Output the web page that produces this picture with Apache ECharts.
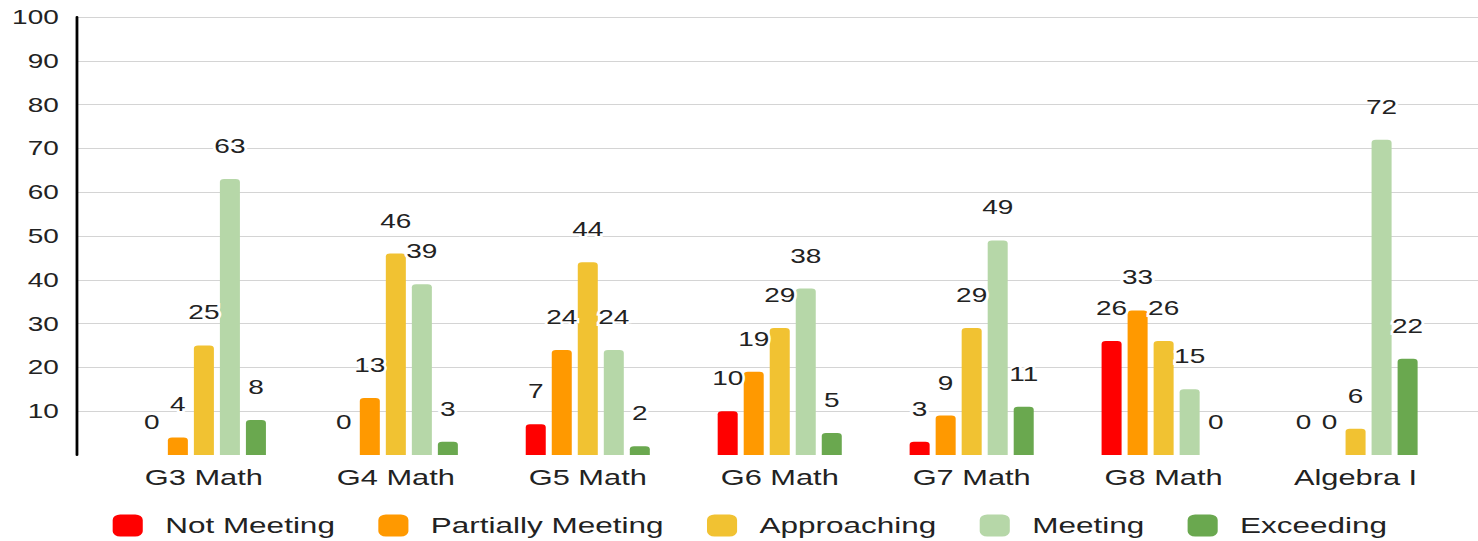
<!DOCTYPE html>
<html>
<head>
<meta charset="utf-8">
<script src="https://cdn.jsdelivr.net/npm/echarts@6/dist/echarts.min.js"></script>
<style>
  html, body { margin: 0; padding: 0; background: #fff; overflow: hidden; }
  /* the reference is a horizontally stretched picture, so draw narrow and stretch */
  #main { width: 1056px; height: 541px; transform: scaleX(1.39962); transform-origin: 0 0; }
</style>
</head>
<body>
<div id="main"></div>
<script>
const categories = ['G3 Math', 'G4 Math', 'G5 Math', 'G6 Math', 'G7 Math', 'G8 Math', 'Algebra I'];
const notMeeting = [0, 0, 7, 10, 3, 26, 0];
const partiallyMeeting = [4, 13, 24, 19, 9, 33, 0];
const approaching = [25, 46, 44, 29, 29, 26, 6];
const meeting = [63, 39, 24, 38, 49, 15, 72];
const exceeding = [8, 3, 2, 5, 11, 0, 22];

const seriesNames = ['Not Meeting', 'Partially Meeting', 'Approaching', 'Meeting', 'Exceeding'];
const seriesData = [notMeeting, partiallyMeeting, approaching, meeting, exceeding];
const colors = ['#ff0000', '#ff9900', '#f1c232', '#b6d7a8', '#6aa84f'];

const font = '"Liberation Sans", Arial, sans-serif';

const chart = echarts.init(document.getElementById('main'), null, { renderer: 'svg' });

const option = {
    animation: false,
    color: colors,
    legend: {
        left: 80.5,
        top: 514,
        padding: 0,
        itemWidth: 21.5,
        itemHeight: 22,
        itemGap: 31,
        icon: 'roundRect',
        textStyle: {
            fontFamily: font,
            fontSize: 22.5,
            color: '#222',
            padding: [0, 0, 0, 11]
        },
        data: seriesNames
    },
    grid: [
        // grid lines only
        { left: 55, right: 0, top: 17, bottom: 129.8 },
        // bars
        { left: 77.1, right: 18.9, top: 17, bottom: 86 }
    ],
    xAxis: [
        { gridIndex: 0, type: 'value', show: false },
        {
            gridIndex: 1,
            type: 'category',
            data: categories,
            axisLine: { show: false },
            axisTick: { show: false },
            axisLabel: { fontFamily: font, fontSize: 22, color: '#222', margin: 12 }
        }
    ],
    yAxis: [
        {
            gridIndex: 0,
            type: 'value',
            min: 10,
            max: 100,
            interval: 10,
            axisLine: { show: false },
            axisTick: { show: false },
            axisLabel: { show: false },
            splitLine: { lineStyle: { color: '#d4d4d4', width: 1 } }
        },
        {
            gridIndex: 1,
            type: 'value',
            min: 0,
            max: 100,
            interval: 10,
            offset: 22.1,
            axisLine: { show: true, lineStyle: { color: '#000', width: 2 } },
            axisTick: { show: false },
            splitLine: { show: false },
            axisLabel: {
                showMinLabel: false,
                fontFamily: font,
                fontSize: 20,
                color: '#222',
                margin: 13
            }
        }
    ],
    series: seriesNames.map((name, i) => ({
        name: name,
        type: 'bar',
        xAxisIndex: 1,
        yAxisIndex: 1,
        data: seriesData[i],
        barWidth: 14.3,
        barGap: '30%',
        itemStyle: { color: colors[i], borderRadius: [3, 3, 0, 0] },
        label: {
            show: true,
            position: 'top',
            distance: 23,
            fontFamily: font,
            fontSize: 20,
            color: '#222',
            textBorderColor: '#fff',
            textBorderWidth: 4
        }
    }))
};

chart.setOption(option);
</script>
</body>
</html>
